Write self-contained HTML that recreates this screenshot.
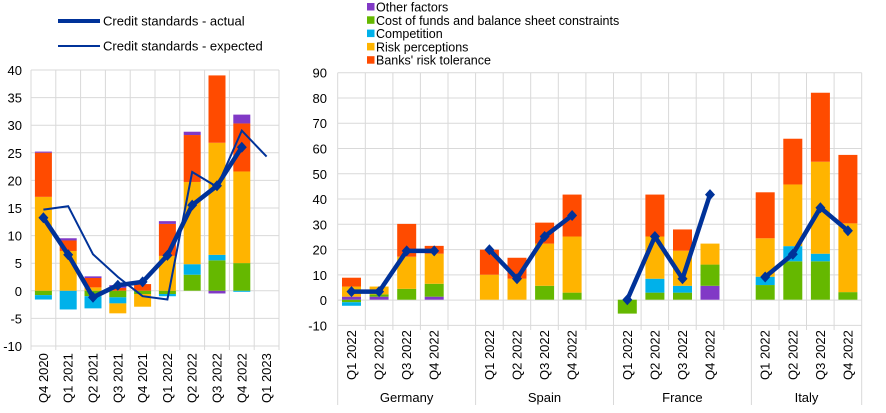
<!DOCTYPE html>
<html><head><meta charset="utf-8"><style>
html,body{margin:0;padding:0;background:#fff;}
svg{display:block;font-family:"Liberation Sans",Arial,sans-serif;}
</style></head><body>
<svg width="886" height="413" viewBox="0 0 886 413" xmlns="http://www.w3.org/2000/svg">
<!-- LEFT GRID -->
<g stroke="#d9d9d9" stroke-width="1" fill="none">
<path d="M31 70H279M31 97.6H279M31 125.2H279M31 152.8H279M31 180.4H279M31 208H279M31 235.6H279M31 263.2H279M31 290.8H279M31 318.4H279M31 346H279"/>
<path d="M31 70V350M55.8 70V350M80.6 70V350M105.4 70V350M130.2 70V350M155 70V350M179.8 70V350M204.6 70V350M229.4 70V350M254.2 70V350M279 70V350"/>
</g>
<g font-size="13" fill="#000" text-anchor="end">
<text x="22" y="75">40</text><text x="22" y="102.6">35</text><text x="22" y="130.2">30</text><text x="22" y="157.8">25</text><text x="22" y="185.4">20</text><text x="22" y="213">15</text><text x="22" y="240.6">10</text><text x="22" y="268.2">5</text><text x="22" y="295.8">0</text><text x="22" y="323.4">-5</text><text x="22" y="351">-10</text>
</g>
<!-- LEFT BARS -->
<g transform="translate(0 290.7) scale(1 -5.52)">
<!-- c0 -->
<rect x="34.9" y="-0.8" width="17" height="0.8" fill="#65b800"/><rect x="34.9" y="-1.6" width="17" height="0.8" fill="#00b1ea"/>
<rect x="34.9" y="0" width="17" height="17" fill="#ffb400"/><rect x="34.9" y="17" width="17" height="8" fill="#ff4b00"/><rect x="34.9" y="25" width="17" height="0.2" fill="#8139c6"/>
<!-- c1 -->
<rect x="59.7" y="-3.4" width="17" height="3.4" fill="#00b1ea"/>
<rect x="59.7" y="0" width="17" height="7.2" fill="#ffb400"/><rect x="59.7" y="7.2" width="17" height="1.9" fill="#ff4b00"/><rect x="59.7" y="9.1" width="17" height="0.4" fill="#8139c6"/>
<!-- c2 -->
<rect x="84.5" y="-1" width="17" height="1" fill="#65b800"/><rect x="84.5" y="-3.2" width="17" height="2.2" fill="#00b1ea"/>
<rect x="84.5" y="0" width="17" height="0.6" fill="#ffb400"/><rect x="84.5" y="0.6" width="17" height="1.7" fill="#ff4b00"/><rect x="84.5" y="2.3" width="17" height="0.3" fill="#8139c6"/>
<!-- c3 -->
<rect x="109.3" y="-1.2" width="17" height="1.2" fill="#65b800"/><rect x="109.3" y="-2.3" width="17" height="1.1" fill="#00b1ea"/><rect x="109.3" y="-4.1" width="17" height="1.8" fill="#ffb400"/>
<rect x="109.3" y="0" width="17" height="0.5" fill="#ff4b00"/><rect x="109.3" y="0.5" width="17" height="0.5" fill="#8139c6"/>
<!-- c4 -->
<rect x="134.1" y="-0.6" width="17" height="0.6" fill="#65b800"/><rect x="134.1" y="-2.9" width="17" height="2.3" fill="#ffb400"/>
<rect x="134.1" y="0" width="17" height="1.2" fill="#ff4b00"/>
<!-- c5 -->
<rect x="158.9" y="-0.6" width="17" height="0.6" fill="#65b800"/><rect x="158.9" y="-1" width="17" height="0.4" fill="#00b1ea"/>
<rect x="158.9" y="0" width="17" height="6.3" fill="#ffb400"/><rect x="158.9" y="6.3" width="17" height="5.8" fill="#ff4b00"/><rect x="158.9" y="12.1" width="17" height="0.5" fill="#8139c6"/>
<!-- c6 -->
<rect x="183.7" y="0" width="17" height="2.9" fill="#65b800"/><rect x="183.7" y="2.9" width="17" height="1.9" fill="#00b1ea"/><rect x="183.7" y="4.8" width="17" height="14.9" fill="#ffb400"/><rect x="183.7" y="19.7" width="17" height="8.5" fill="#ff4b00"/><rect x="183.7" y="28.2" width="17" height="0.6" fill="#8139c6"/>
<!-- c7 -->
<rect x="208.5" y="-0.5" width="17" height="0.5" fill="#8139c6"/>
<rect x="208.5" y="0" width="17" height="5.5" fill="#65b800"/><rect x="208.5" y="5.5" width="17" height="1" fill="#00b1ea"/><rect x="208.5" y="6.5" width="17" height="20.3" fill="#ffb400"/><rect x="208.5" y="26.8" width="17" height="12.2" fill="#ff4b00"/>
<!-- c8 -->
<rect x="233.3" y="-0.2" width="17" height="0.2" fill="#00b1ea"/>
<rect x="233.3" y="0" width="17" height="5" fill="#65b800"/><rect x="233.3" y="5" width="17" height="16.6" fill="#ffb400"/><rect x="233.3" y="21.6" width="17" height="8.7" fill="#ff4b00"/><rect x="233.3" y="30.3" width="17" height="1.6" fill="#8139c6"/>
</g>
<!-- LEFT LINES -->
<polyline points="43.4,209.6 68.2,206.2 93,254.3 117.8,276.9 142.6,296.2 167.4,299.5 192.2,172 217,186.9 241.8,130.6 266.6,156.6" fill="none" stroke="#003299" stroke-width="2"/>
<polyline points="43.4,217.8 68.2,254.8 93,297.3 117.8,285.2 142.6,281.9 167.4,255.4 192.2,205.1 217,185.8 241.8,147.2" fill="none" stroke="#003299" stroke-width="4.5" stroke-linejoin="round"/>
<g fill="#003299">
<path d="M43.4 212.3l5 5.5-5 5.5-5-5.5z"/><path d="M68.2 249.3l5 5.5-5 5.5-5-5.5z"/><path d="M93 291.8l5 5.5-5 5.5-5-5.5z"/><path d="M117.8 279.7l5 5.5-5 5.5-5-5.5z"/><path d="M142.6 276.4l5 5.5-5 5.5-5-5.5z"/><path d="M167.4 249.9l5 5.5-5 5.5-5-5.5z"/><path d="M192.2 199.6l5 5.5-5 5.5-5-5.5z"/><path d="M217 180.3l5 5.5-5 5.5-5-5.5z"/><path d="M241.8 141.7l5 5.5-5 5.5-5-5.5z"/>
</g>
<g font-size="13" fill="#000">
<text transform="translate(47.9 403) rotate(-90)">Q4 2020</text>
<text transform="translate(72.7 403) rotate(-90)">Q1 2021</text>
<text transform="translate(97.5 403) rotate(-90)">Q2 2021</text>
<text transform="translate(122.3 403) rotate(-90)">Q3 2021</text>
<text transform="translate(147.1 403) rotate(-90)">Q4 2021</text>
<text transform="translate(171.9 403) rotate(-90)">Q1 2022</text>
<text transform="translate(196.7 403) rotate(-90)">Q2 2022</text>
<text transform="translate(221.5 403) rotate(-90)">Q3 2022</text>
<text transform="translate(246.3 403) rotate(-90)">Q4 2022</text>
<text transform="translate(271.1 403) rotate(-90)">Q1 2023</text>
</g>
<!-- LEFT LEGEND -->
<line x1="58" y1="21" x2="100" y2="21" stroke="#003299" stroke-width="4"/>
<line x1="58" y1="46" x2="100" y2="46" stroke="#003299" stroke-width="2"/>
<g font-size="13" fill="#000"><text x="103" y="25.5">Credit standards - actual</text><text x="103" y="50.5">Credit standards - expected</text></g>

<!-- RIGHT GRID -->
<g stroke="#d9d9d9" stroke-width="1" fill="none">
<path d="M337.7 72.7H861.7M337.7 98H861.7M337.7 123.2H861.7M337.7 148.5H861.7M337.7 173.8H861.7M337.7 199H861.7M337.7 224.3H861.7M337.7 249.6H861.7M337.7 274.9H861.7M337.7 300.1H861.7M337.7 325.4H861.7"/>
<path d="M365.3 72.7V330M392.9 72.7V330M420.4 72.7V330M448 72.7V330M503.2 72.7V330M530.7 72.7V330M558.3 72.7V330M585.9 72.7V330M641.1 72.7V330M668.6 72.7V330M696.2 72.7V330M723.8 72.7V330M779 72.7V330M806.5 72.7V330M834.1 72.7V330"/>
<path d="M337.7 72.7V405M475.6 72.7V405M613.5 72.7V405M751.4 72.7V405M861.7 72.7V405"/>
</g>
<g font-size="13" fill="#000" text-anchor="end">
<text x="327" y="77.7">90</text><text x="327" y="103">80</text><text x="327" y="128.2">70</text><text x="327" y="153.5">60</text><text x="327" y="178.8">50</text><text x="327" y="204">40</text><text x="327" y="229.3">30</text><text x="327" y="254.6">20</text><text x="327" y="279.9">10</text><text x="327" y="305.1">0</text><text x="327" y="330.4">-10</text>
</g>
<!-- RIGHT BARS -->
<g transform="translate(0 299.7) scale(1 -2.527)">
<!-- Germany -->
<rect x="342" y="-1" width="19" height="1" fill="#65b800"/><rect x="342" y="-2.4" width="19" height="1.4" fill="#00b1ea"/>
<rect x="342" y="0" width="19" height="1.2" fill="#8139c6"/><rect x="342" y="1.2" width="19" height="4" fill="#ffb400"/><rect x="342" y="5.2" width="19" height="3.5" fill="#ff4b00"/>
<rect x="369.6" y="0" width="19" height="1.2" fill="#8139c6"/><rect x="369.6" y="1.2" width="19" height="0.9" fill="#65b800"/><rect x="369.6" y="2.1" width="19" height="3.1" fill="#ffb400"/>
<rect x="397.2" y="0" width="19" height="4.3" fill="#65b800"/><rect x="397.2" y="4.3" width="19" height="12.7" fill="#ffb400"/><rect x="397.2" y="17" width="19" height="13" fill="#ff4b00"/>
<rect x="424.7" y="0" width="19" height="1.2" fill="#8139c6"/><rect x="424.7" y="1.2" width="19" height="5.1" fill="#65b800"/><rect x="424.7" y="6.3" width="19" height="11.9" fill="#ffb400"/><rect x="424.7" y="18.2" width="19" height="3.1" fill="#ff4b00"/>
<!-- Spain -->
<rect x="479.9" y="0" width="19" height="9.9" fill="#ffb400"/><rect x="479.9" y="9.9" width="19" height="9.9" fill="#ff4b00"/>
<rect x="507.5" y="0" width="19" height="8.3" fill="#ffb400"/><rect x="507.5" y="8.3" width="19" height="8.3" fill="#ff4b00"/>
<rect x="535.1" y="0" width="19" height="5.5" fill="#65b800"/><rect x="535.1" y="5.5" width="19" height="16.7" fill="#ffb400"/><rect x="535.1" y="22.2" width="19" height="8.3" fill="#ff4b00"/>
<rect x="562.6" y="0" width="19" height="2.8" fill="#65b800"/><rect x="562.6" y="2.8" width="19" height="22.2" fill="#ffb400"/><rect x="562.6" y="25" width="19" height="16.6" fill="#ff4b00"/>
<!-- France -->
<rect x="617.8" y="-5.5" width="19" height="5.5" fill="#65b800"/>
<rect x="645.4" y="0" width="19" height="2.8" fill="#65b800"/><rect x="645.4" y="2.8" width="19" height="5.5" fill="#00b1ea"/><rect x="645.4" y="8.3" width="19" height="16.7" fill="#ffb400"/><rect x="645.4" y="25" width="19" height="16.6" fill="#ff4b00"/>
<rect x="673" y="0" width="19" height="2.8" fill="#65b800"/><rect x="673" y="2.8" width="19" height="2.7" fill="#00b1ea"/><rect x="673" y="5.5" width="19" height="13.9" fill="#ffb400"/><rect x="673" y="19.4" width="19" height="8.4" fill="#ff4b00"/>
<rect x="700.5" y="0" width="19" height="5.5" fill="#8139c6"/><rect x="700.5" y="5.5" width="19" height="8.4" fill="#65b800"/><rect x="700.5" y="13.9" width="19" height="8.3" fill="#ffb400"/>
<!-- Italy -->
<rect x="755.7" y="0" width="19" height="5.8" fill="#65b800"/><rect x="755.7" y="5.8" width="19" height="3.3" fill="#00b1ea"/><rect x="755.7" y="9.1" width="19" height="15.2" fill="#ffb400"/><rect x="755.7" y="24.3" width="19" height="18.2" fill="#ff4b00"/>
<rect x="783.3" y="0" width="19" height="15.2" fill="#65b800"/><rect x="783.3" y="15.2" width="19" height="6" fill="#00b1ea"/><rect x="783.3" y="21.2" width="19" height="24.4" fill="#ffb400"/><rect x="783.3" y="45.6" width="19" height="18.1" fill="#ff4b00"/>
<rect x="810.9" y="0" width="19" height="15.2" fill="#65b800"/><rect x="810.9" y="15.2" width="19" height="3" fill="#00b1ea"/><rect x="810.9" y="18.2" width="19" height="36.4" fill="#ffb400"/><rect x="810.9" y="54.6" width="19" height="27.3" fill="#ff4b00"/>
<rect x="838.4" y="0" width="19" height="3" fill="#65b800"/><rect x="838.4" y="3" width="19" height="27.2" fill="#ffb400"/><rect x="838.4" y="30.2" width="19" height="27.1" fill="#ff4b00"/>
</g>
<!-- RIGHT LINES -->
<g fill="none" stroke="#003299" stroke-width="4.5" stroke-linejoin="round">
<polyline points="351.5,291.6 379.1,291.6 406.7,250.9 434.2,250.9"/>
<polyline points="489.4,249.7 517,278.7 544.6,236.5 572.1,215.5"/>
<polyline points="627.3,299.7 654.9,236.5 682.5,278.7 710,194.6"/>
<polyline points="765.2,277 792.8,254.2 820.4,207.7 847.9,230.7"/>
</g>
<g fill="#003299">
<path d="M351.5 286.1l5 5.5-5 5.5-5-5.5z"/><path d="M379.1 286.1l5 5.5-5 5.5-5-5.5z"/><path d="M406.7 245.4l5 5.5-5 5.5-5-5.5z"/><path d="M434.2 245.4l5 5.5-5 5.5-5-5.5z"/>
<path d="M489.4 244.2l5 5.5-5 5.5-5-5.5z"/><path d="M517 273.2l5 5.5-5 5.5-5-5.5z"/><path d="M544.6 231l5 5.5-5 5.5-5-5.5z"/><path d="M572.1 210l5 5.5-5 5.5-5-5.5z"/>
<path d="M627.3 294.2l5 5.5-5 5.5-5-5.5z"/><path d="M654.9 231l5 5.5-5 5.5-5-5.5z"/><path d="M682.5 273.2l5 5.5-5 5.5-5-5.5z"/><path d="M710 189.1l5 5.5-5 5.5-5-5.5z"/>
<path d="M765.2 271.5l5 5.5-5 5.5-5-5.5z"/><path d="M792.8 248.7l5 5.5-5 5.5-5-5.5z"/><path d="M820.4 202.2l5 5.5-5 5.5-5-5.5z"/><path d="M847.9 225.2l5 5.5-5 5.5-5-5.5z"/>
</g>
<g font-size="13" fill="#000">
<text transform="translate(356 380) rotate(-90)">Q1 2022</text><text transform="translate(383.6 380) rotate(-90)">Q2 2022</text><text transform="translate(411.2 380) rotate(-90)">Q3 2022</text><text transform="translate(438.7 380) rotate(-90)">Q4 2022</text>
<text transform="translate(493.9 380) rotate(-90)">Q1 2022</text><text transform="translate(521.5 380) rotate(-90)">Q2 2022</text><text transform="translate(549.1 380) rotate(-90)">Q3 2022</text><text transform="translate(576.6 380) rotate(-90)">Q4 2022</text>
<text transform="translate(631.8 380) rotate(-90)">Q1 2022</text><text transform="translate(659.4 380) rotate(-90)">Q2 2022</text><text transform="translate(687 380) rotate(-90)">Q3 2022</text><text transform="translate(714.5 380) rotate(-90)">Q4 2022</text>
<text transform="translate(769.7 380) rotate(-90)">Q1 2022</text><text transform="translate(797.3 380) rotate(-90)">Q2 2022</text><text transform="translate(824.9 380) rotate(-90)">Q3 2022</text><text transform="translate(852.4 380) rotate(-90)">Q4 2022</text>
</g>
<g font-size="13" fill="#000" text-anchor="middle">
<text x="406.6" y="402">Germany</text><text x="544.5" y="402">Spain</text><text x="682.4" y="402">France</text><text x="806.5" y="402">Italy</text>
</g>
<!-- RIGHT LEGEND -->
<rect x="367" y="3" width="7.5" height="7.5" fill="#8139c6"/>
<rect x="367" y="16.3" width="7.5" height="7.5" fill="#65b800"/>
<rect x="367" y="29.6" width="7.5" height="7.5" fill="#00b1ea"/>
<rect x="367" y="42.9" width="7.5" height="7.5" fill="#ffb400"/>
<rect x="367" y="56.2" width="7.5" height="7.5" fill="#ff4b00"/>
<g font-size="12.5" fill="#000">
<text x="376" y="11.5">Other factors</text>
<text x="376" y="24.8">Cost of funds and balance sheet constraints</text>
<text x="376" y="38.1">Competition</text>
<text x="376" y="51.4">Risk perceptions</text>
<text x="376" y="64.7">Banks' risk tolerance</text>
</g>
</svg>
</body></html>
